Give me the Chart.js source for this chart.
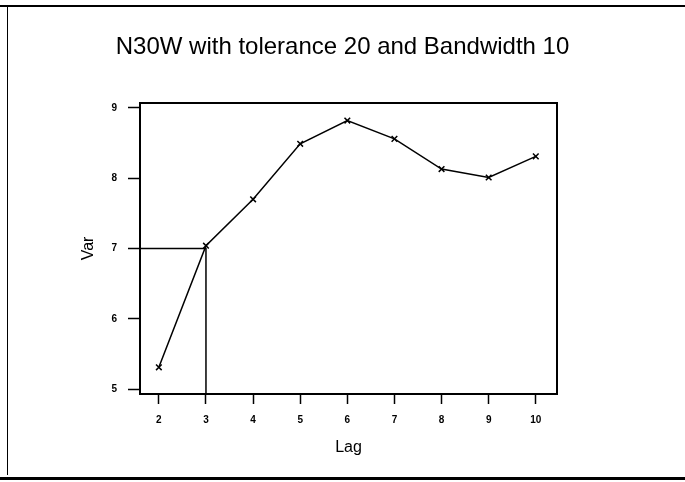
<!DOCTYPE html>
<html>
<head>
<meta charset="utf-8">
<script src="https://cdn.jsdelivr.net/npm/chart.js@4"></script>
<style>
    body { margin: 0; background: #fff; }
    #wrap { position: relative; width: 685px; height: 482px; overflow: hidden; }
    #chart { position: absolute; left: 0; top: 0; }
    .rule { position: absolute; background: #000; }
</style>
</head>
<body>
<div id="wrap">
    <canvas id="chart" width="685" height="482"></canvas>
    <div class="rule" style="left:0; top:5px; width:685px; height:2px;"></div>
    <div class="rule" style="left:7px; top:7px; width:1px; height:468px;"></div>
    <div class="rule" style="left:0; top:477px; width:685px; height:3px;"></div>
</div>
<script>
// Data
const lags = [2, 3, 4, 5, 6, 7, 8, 9, 10];
const variance = [5.31, 7.04, 7.70, 8.49, 8.82, 8.56, 8.13, 8.01, 8.31];

// Axis ranges
const xMin = 1.6;
const xMax = 10.45;
const yMin = 4.93;
const yMax = 9.07;

// Guide line marking Var = 7 at lag 3
const guideX = [xMin, 3, 3];
const guideY = [7, 7, yMin];

const titleText = "N30W with tolerance 20 and Bandwidth 10";
const xLabel = "Lag";
const yLabel = "Var";

const mainPoints = lags.map((x, i) => ({ x: x, y: variance[i] }));
const guidePoints = guideX.map((x, i) => ({ x: x, y: guideY[i] }));

// Box round the plot area
const frameBox = {
    id: "frameBox",
    afterDatasetsDraw(chart) {
        const a = chart.chartArea;
        const c = chart.ctx;
        c.save();
        c.strokeStyle = "#000";
        c.lineWidth = 2;
        c.strokeRect(a.left, a.top, a.right - a.left, a.bottom - a.top);
        c.restore();
    },
};

const tickFont = { family: "Liberation Sans, Arial, sans-serif", size: 10, weight: "bold" };
const labelFont = { family: "Liberation Sans, Arial, sans-serif", size: 16 };

const ctx = document.getElementById("chart").getContext("2d");
new Chart(ctx, {
    type: "scatter",
    data: {
        datasets: [
            {
                data: guidePoints,
                showLine: true,
                borderColor: "#000",
                borderWidth: 1.5,
                pointRadius: 0,
                fill: false,
            },
            {
                data: mainPoints,
                showLine: true,
                borderColor: "#000",
                backgroundColor: "#000",
                borderWidth: 1.5,
                pointStyle: "crossRot",
                pointRadius: 4,
                pointBorderWidth: 1.5,
                fill: false,
            },
        ],
    },
    options: {
        responsive: false,
        animation: false,
        layout: { padding: 0 },
        plugins: {
            legend: { display: false },
            tooltip: { enabled: false },
            title: {
                display: true,
                text: titleText,
                color: "#000",
                font: { family: "Liberation Sans, Arial, sans-serif", size: 24, weight: "normal" },
                padding: { top: 32.6, bottom: 41.6 },
            },
        },
        scales: {
            x: {
                type: "linear",
                min: xMin,
                max: xMax,
                afterFit: (scale) => { scale.height = 88; },
                ticks: {
                    stepSize: 1,
                    includeBounds: false,
                    color: "#000",
                    font: tickFont,
                    padding: 10,
                    maxRotation: 0,
                },
                grid: {
                    drawOnChartArea: false,
                    drawTicks: true,
                    tickLength: 10,
                    tickWidth: 1.5,
                    tickColor: "#000",
                },
                border: { display: true, color: "#000", width: 2 },
                title: {
                    display: true,
                    text: xLabel,
                    color: "#000",
                    font: labelFont,
                    padding: { top: 0, bottom: 24.4 },
                },
            },
            y: {
                type: "linear",
                min: yMin,
                max: yMax,
                afterFit: (scale) => { scale.width = 140; },
                ticks: {
                    stepSize: 1,
                    includeBounds: false,
                    color: "#000",
                    font: tickFont,
                    padding: 11,
                },
                grid: {
                    drawOnChartArea: false,
                    drawTicks: true,
                    tickLength: 12,
                    tickWidth: 1.5,
                    tickColor: "#000",
                },
                border: { display: true, color: "#000", width: 2 },
                title: {
                    display: true,
                    text: yLabel,
                    color: "#000",
                    font: labelFont,
                    padding: { top: 79.4, bottom: 0 },
                },
            },
            // empty right-hand scale keeps the margin so the title centres on the page
            spacer: {
                type: "linear",
                position: "right",
                afterFit: (scale) => { scale.width = 128; },
                ticks: { display: false },
                grid: { display: false },
                border: { display: false },
            },
        },
    },
    plugins: [frameBox],
});
</script>
</body>
</html>
